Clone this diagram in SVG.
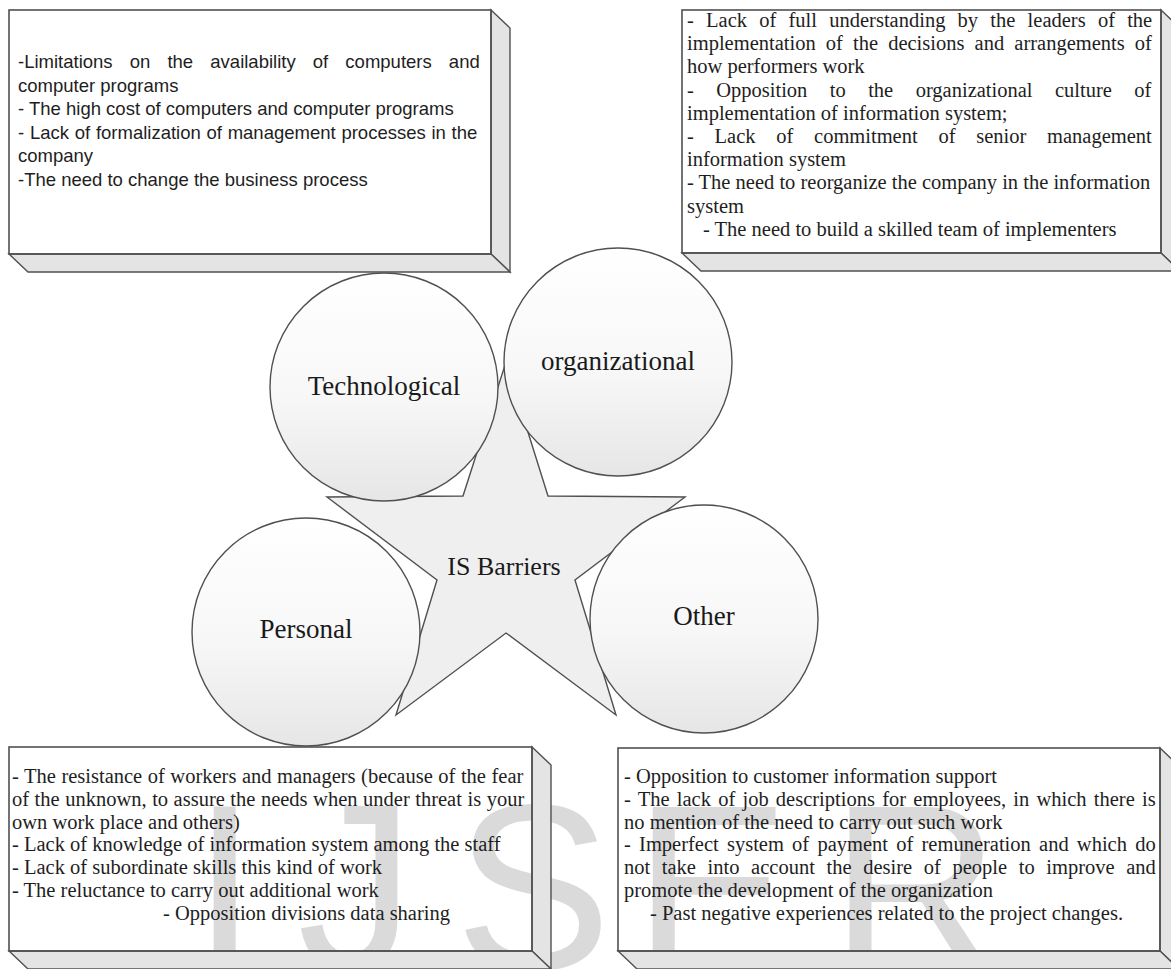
<svg xmlns="http://www.w3.org/2000/svg" width="1171" height="969" viewBox="0 0 1171 969">
<style>
.bg{fill:#ffffff}
.front{fill:none;stroke:#505050;stroke-width:1.6}
.side{fill:#e4e4e4;stroke:#505050;stroke-width:1.4;stroke-linejoin:miter}
.sans{font-family:"Liberation Sans",Arial,sans-serif;font-size:18.5px;fill:#1e1e1e}
.ser{font-family:"Liberation Serif","Times New Roman",serif;font-size:20.5px;fill:#1e1e1e}
.lbl{font-family:"Liberation Serif","Times New Roman",serif;font-size:27px;fill:#1a1a1a;text-anchor:middle}
.circ{fill:url(#cg);stroke:#505050;stroke-width:1.4}
.star{fill:#efefef;stroke:#505050;stroke-width:1.4;stroke-linejoin:miter}
.wm{font-family:"Liberation Sans",Arial,sans-serif;font-size:235px;fill:#dadada}
</style>
<defs>
<linearGradient id="cg" x1="0" y1="0" x2="0" y2="1">
<stop offset="0" stop-color="#ffffff"/>
<stop offset="0.55" stop-color="#f7f7f7"/>
<stop offset="1" stop-color="#e6e6e6"/>
</linearGradient>
</defs>
<rect class="bg" x="0" y="0" width="1171" height="969"/>
<g id="watermark">
<text class="wm" x="192" y="969" letter-spacing="40">IJS<tspan dx="-18">E</tspan>R</text>
</g>
<g id="connectors"></g>
<g id="box-technological">
<polygon class="side" points="491,10 510,28 510,272 491,254"/>
<polygon class="side" points="9,254 491,254 510,272 28,272"/>
<rect class="front" x="9" y="10" width="482" height="244"/>
<text class="sans" x="18" y="68" style="word-spacing:12px">-Limitations on the availability of computers and</text>
<text class="sans" x="18" y="91.5">computer programs</text>
<text class="sans" x="18" y="115">- The high cost of computers and computer programs</text>
<text class="sans" x="18" y="138.5" style="word-spacing:0.6px">- Lack of formalization of management processes in the</text>
<text class="sans" x="18" y="162">company</text>
<text class="sans" x="18" y="185.5">-The need to change the business process</text>
</g>
<g id="box-organizational">
<polygon class="side" points="1161,10 1180,28 1180,271 1161,253"/>
<polygon class="side" points="682,253 1161,253 1180,271 701,271"/>
<rect class="front" x="682" y="10" width="479" height="243"/>
<text class="ser" x="687" y="27" style="word-spacing:7.1px">- Lack of full understanding by the leaders of the</text>
<text class="ser" x="687" y="50.2" style="word-spacing:5px">implementation of the decisions and arrangements of</text>
<text class="ser" x="687" y="73.4">how performers work</text>
<text class="ser" x="687" y="96.6" style="word-spacing:17.3px">- Opposition to the organizational culture of</text>
<text class="ser" x="687" y="119.8">implementation of information system;</text>
<text class="ser" x="687" y="143" style="word-spacing:15.6px">- Lack of commitment of senior management</text>
<text class="ser" x="687" y="166.2">information system</text>
<text class="ser" x="687" y="189.4">- The need to reorganize the company in the information</text>
<text class="ser" x="687" y="212.6">system</text>
<text class="ser" x="703" y="235.8">- The need to build a skilled team of implementers</text>
</g>
<g id="center-star">
<polygon class="star" points="506,362 548,496 685,497 575,580 616,715 506,633 396,715 437,580 327,497 463,496"/>
<text class="lbl" x="504" y="575" style="font-size:26px">IS Barriers</text>
</g>
<g id="circle-technological">
<circle class="circ" cx="384" cy="387" r="114"/>
<text class="lbl" x="384" y="395">Technological</text>
</g>
<g id="circle-organizational">
<circle class="circ" cx="618" cy="362" r="114"/>
<text class="lbl" x="618" y="370">organizational</text>
</g>
<g id="circle-personal">
<circle class="circ" cx="306" cy="632" r="114"/>
<text class="lbl" x="306" y="638">Personal</text>
</g>
<g id="circle-other">
<circle class="circ" cx="704" cy="619" r="114"/>
<text class="lbl" x="704" y="625">Other</text>
</g>
<g id="box-personal">
<polygon class="side" points="532,747 551,765 551,969 532,951"/>
<polygon class="side" points="9,951 532,951 551,969 28,969"/>
<rect class="front" x="9" y="747" width="523" height="204"/>
<text class="ser" x="12" y="783" style="word-spacing:0.4px">- The resistance of workers and managers (because of the fear</text>
<text class="ser" x="12" y="805.8" style="word-spacing:0.4px">of the unknown, to assure the needs when under threat is your</text>
<text class="ser" x="12" y="828.6">own work place and others)</text>
<text class="ser" x="12" y="851.4">- Lack of knowledge of information system among the staff</text>
<text class="ser" x="12" y="874.2">- Lack of subordinate skills this kind of work</text>
<text class="ser" x="12" y="897">- The reluctance to carry out additional work</text>
<text class="ser" x="163" y="919.8">- Opposition divisions data sharing</text>
</g>
<g id="box-other">
<polygon class="side" points="1160,748 1179,766 1179,969 1160,951"/>
<polygon class="side" points="618,951 1160,951 1179,969 637,969"/>
<rect class="front" x="618" y="748" width="542" height="203"/>
<text class="ser" x="624" y="783">- Opposition to customer information support</text>
<text class="ser" x="624" y="805.8" style="word-spacing:2.1px">- The lack of job descriptions for employees, in which there is</text>
<text class="ser" x="624" y="828.6">no mention of the need to carry out such work</text>
<text class="ser" x="624" y="851.4" style="word-spacing:3.1px">- Imperfect system of payment of remuneration and which do</text>
<text class="ser" x="624" y="874.2" style="word-spacing:6.5px">not take into account the desire of people to improve and</text>
<text class="ser" x="624" y="897">promote the development of the organization</text>
<text class="ser" x="650" y="919.8">- Past negative experiences related to the project changes.</text>
</g>
</svg>
